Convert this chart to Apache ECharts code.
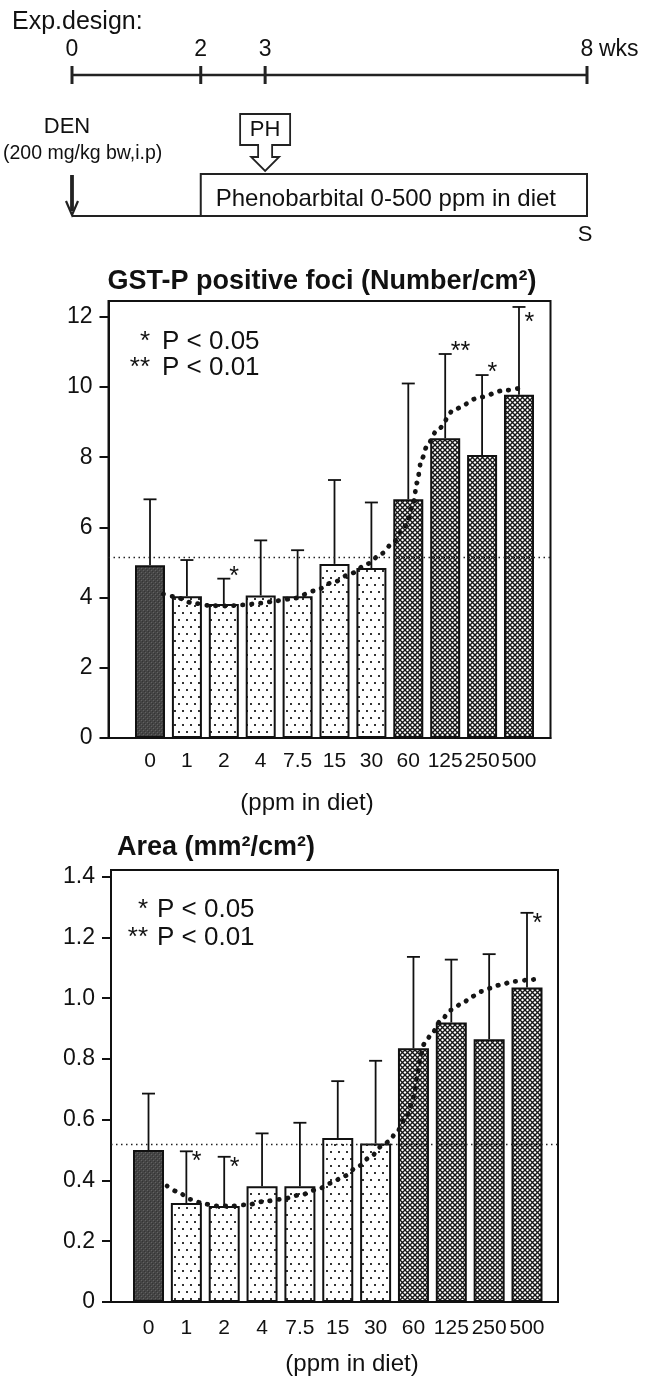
<!DOCTYPE html>
<html>
<head>
<meta charset="utf-8">
<script src="https://cdn.jsdelivr.net/npm/echarts@6/dist/echarts.min.js"></script>
<style>
html,body{margin:0;padding:0;background:#ffffff;}
#chart{width:653px;height:1382px;}
</style>
</head>
<body>
<div id="chart"></div>
<script>
// ---------------- data ----------------
const categories = ['0', '1', '2', '4', '7.5', '15', '30', '60', '125', '250', '500'];
const doseGroup = ['control', 'low', 'low', 'low', 'low', 'low', 'low', 'high', 'high', 'high', 'high'];

// GST-P positive foci (Number/cm2)
const fociMean   = [4.92, 4.04, 3.82, 4.06, 4.04, 4.96, 4.84, 6.80, 8.54, 8.06, 9.78];
const fociErrTop = [6.80, 5.07, 4.54, 5.63, 5.35, 7.35, 6.71, 10.10, 10.94, 10.34, 12.28];
const fociSig    = ['', '', '*', '', '', '', '', '', '**', '*', '*'];
const fociControlLevel = 5.14;
const fociTrend = [[0.36, 4.10], [0.64, 4.03], [1.18, 3.84], [1.64, 3.77], [2.09, 3.76], [2.5, 3.79],
  [3.0, 3.84], [3.45, 3.91], [3.91, 3.98], [4.45, 4.19], [5.0, 4.45], [5.45, 4.69], [5.91, 4.97],
  [6.27, 5.25], [6.55, 5.52], [6.93, 6.05], [7.14, 6.68], [7.23, 7.26], [7.36, 7.94], [7.53, 8.38],
  [7.78, 8.77], [8.27, 9.38], [8.95, 9.71], [9.58, 9.90], [10.16, 10.0]];
const fociTicks = [0, 2, 4, 6, 8, 10, 12];
const fociTickLabels = ['0', '2', '4', '6', '8', '10', '12'];

// Area (mm2/cm2)
const areaMean   = [0.500, 0.326, 0.316, 0.381, 0.381, 0.540, 0.522, 0.835, 0.920, 0.865, 1.035];
const areaErrTop = [0.686, 0.496, 0.478, 0.555, 0.590, 0.727, 0.794, 1.136, 1.127, 1.145, 1.281];
const areaSig    = ['', '*', '*', '', '', '', '', '', '', '', '*'];
const areaControlLevel = 0.52;
const areaTrend = [[0.49, 0.382], [0.75, 0.364], [1.11, 0.338], [1.46, 0.323], [1.81, 0.316],
  [2.17, 0.316], [2.61, 0.320], [3.05, 0.331], [3.5, 0.338], [4.03, 0.353], [4.47, 0.371],
  [4.82, 0.391], [5.18, 0.415], [5.53, 0.446], [5.88, 0.479], [6.15, 0.512], [6.35, 0.528],
  [6.56, 0.561], [6.82, 0.610], [7.01, 0.676], [7.11, 0.753], [7.19, 0.813], [7.29, 0.851],
  [7.49, 0.884], [7.70, 0.923], [7.99, 0.961], [8.29, 0.983], [8.54, 1.005], [8.79, 1.022],
  [9.04, 1.033], [9.29, 1.044], [9.63, 1.055], [10.05, 1.060], [10.2, 1.062]];
const areaTicks = [0, 0.2, 0.4, 0.6, 0.8, 1.0, 1.2, 1.4];
const areaTickLabels = ['0', '0.2', '0.4', '0.6', '0.8', '1.0', '1.2', '1.4'];

// Experimental design (weeks)
const designWeeks = [0, 2, 3, 8];
const designWeekLabels = ['0', '2', '3', '8'];
const designUnit = 'wks';
const denWeek = 0, pbStartWeek = 2, phWeek = 3, endWeek = 8;

// ---------------- styles ----------------
const FONT = '"Liberation Sans", Arial, Helvetica, sans-serif';
const INK = '#111111';
const LW = 2;

function makeTile(w, h, draw) {
  const c = document.createElement('canvas');
  c.width = w; c.height = h;
  draw(c.getContext('2d'), w, h);
  return c;
}
const darkTile = makeTile(4, 4, (ctx) => {
  ctx.fillStyle = '#454545'; ctx.fillRect(0, 0, 4, 4);
  ctx.fillStyle = '#626262'; ctx.fillRect(1, 0, 1, 1); ctx.fillRect(3, 2, 1, 1);
  ctx.fillStyle = '#343434'; ctx.fillRect(0, 3, 1, 1); ctx.fillRect(2, 1, 1, 1);
});
const dotTile = makeTile(8, 14, (ctx, w, h) => {
  ctx.fillStyle = '#ffffff'; ctx.fillRect(0, 0, w, h);
  ctx.fillStyle = '#333333';
  ctx.fillRect(2, 3, 2, 2);
  ctx.fillRect(6, 10, 2, 2);
});
const hatchTile = makeTile(5, 5, (ctx, w, h) => {
  ctx.fillStyle = '#ffffff'; ctx.fillRect(0, 0, w, h);
  ctx.strokeStyle = '#151515'; ctx.lineWidth = 1.4;
  ctx.beginPath();
  ctx.moveTo(-1, -1); ctx.lineTo(w + 1, h + 1);
  ctx.moveTo(w + 1, -1); ctx.lineTo(-1, h + 1);
  ctx.stroke();
});
const groupFill = {
  control: { image: darkTile, repeat: 'repeat' },
  low: { image: dotTile, repeat: 'repeat' },
  high: { image: hatchTile, repeat: 'repeat' }
};

// ---------------- helpers ----------------
function errorRenderer(sigArr, starDy) {
  return function (params, api) {
    const i = api.value(0);
    const p0 = api.coord([i, api.value(1)]);
    const p1 = api.coord([i, api.value(2)]);
    const cap = 6.5;
    const children = [
      { type: 'line', shape: { x1: p0[0], y1: p0[1], x2: p1[0], y2: p1[1] }, style: { stroke: INK, lineWidth: 1.8 } },
      { type: 'line', shape: { x1: p1[0] - cap, y1: p1[1], x2: p1[0] + cap, y2: p1[1] }, style: { stroke: INK, lineWidth: 1.8 } }
    ];
    const s = sigArr[params.dataIndex];
    if (s) {
      const glyphCenter = Math.max(p1[1] + starDy, params.coordSys.y + 16);
      children.push({
        type: 'text', x: p1[0] + cap - 1, y: glyphCenter + 6,
        style: { text: s, font: '25px ' + FONT, fill: INK, align: 'left', verticalAlign: 'middle' }
      });
    }
    return { type: 'group', children };
  };
}

function barChartParts(gi, cfg) {
  const xAxis = {
    type: 'value', gridIndex: gi, min: cfg.xMin, max: cfg.xMax,
    axisLine: { show: true, onZero: false, lineStyle: { color: INK, width: LW } },
    axisTick: { show: false },
    splitLine: { show: false },
    axisLabel: {
      customValues: categories.map((c, i) => i),
      formatter: (v) => categories[Math.round(v)],
      fontSize: 21, fontFamily: FONT, color: INK, margin: cfg.xLabelMargin
    }
  };
  const yAxis = {
    type: 'value', gridIndex: gi, min: 0, max: cfg.yMax,
    axisLine: { show: true, onZero: false, lineStyle: { color: INK, width: LW } },
    axisTick: { show: true, customValues: cfg.ticks, length: 9, lineStyle: { color: INK, width: LW } },
    splitLine: { show: false },
    axisLabel: {
      customValues: cfg.ticks,
      formatter: (v) => cfg.tickLabels[cfg.ticks.findIndex(t => Math.abs(t - v) < 1e-6)],
      fontSize: 23, fontFamily: FONT, color: INK, margin: 16
    }
  };
  const series = [
    {
      type: 'line', xAxisIndex: gi, yAxisIndex: gi, data: [], z: 1, silent: true,
      markLine: {
        silent: true, symbol: ['none', 'none'], label: { show: false }, animation: false,
        lineStyle: { color: '#222', width: 1.4, type: [1.5, 3.5] },
        data: [{ yAxis: cfg.control }]
      }
    },
    {
      type: 'bar', xAxisIndex: gi, yAxisIndex: gi, barWidth: cfg.barWidth, z: 2,
      data: cfg.mean.map((v, i) => ({ value: [i, v], itemStyle: { color: groupFill[doseGroup[i]] } })),
      itemStyle: { borderColor: INK, borderWidth: LW }
    },
    {
      type: 'custom', xAxisIndex: gi, yAxisIndex: gi, z: 3, clip: false,
      renderItem: errorRenderer(cfg.sig, cfg.starDy),
      data: cfg.mean.map((v, i) => [i, v, cfg.errTop[i]])
    },
    {
      type: 'line', xAxisIndex: gi, yAxisIndex: gi, z: 4, data: cfg.trend,
      smooth: 0.3, smoothMonotone: 'x', showSymbol: false, silent: true,
      lineStyle: { color: '#151515', width: 4.8, type: [0.4, 8.6], cap: 'round' }
    }
  ];
  return { xAxis, yAxis, series };
}

function designRenderer(params, api) {
  const X = (w) => api.coord([w, 0])[0];
  const lineY = 75;
  const txt = (t, x, y, align, size) => ({
    type: 'text', x, y,
    style: { text: t, font: (size || 22) + 'px ' + FONT, fill: INK, align: align || 'center', verticalAlign: 'middle' }
  });
  const ch = [];
  ch.push({ type: 'line', shape: { x1: X(designWeeks[0]), y1: lineY, x2: X(designWeeks[designWeeks.length - 1]), y2: lineY },
            style: { stroke: '#222', lineWidth: 2.6 } });
  designWeeks.forEach((w, k) => {
    ch.push({ type: 'line', shape: { x1: X(w), y1: lineY - 9, x2: X(w), y2: lineY + 9 }, style: { stroke: '#222', lineWidth: 3 } });
    ch.push(txt(designWeekLabels[k], X(w), 50, 'center', 23));
  });
  ch.push(txt(designUnit, X(endWeek) + 12, 50, 'left', 23));
  // DEN injection
  const xd = X(denWeek);
  ch.push(txt('DEN', xd - 5, 127));
  ch.push(txt('(200 mg/kg bw,i.p)', xd - 69, 154, 'left', 19.5));
  ch.push({ type: 'line', shape: { x1: xd, y1: 175, x2: xd, y2: 211 }, style: { stroke: '#222', lineWidth: 3.8 } });
  ch.push({ type: 'polyline', shape: { points: [[xd - 6, 201], [xd, 215], [xd + 6, 201]] }, style: { stroke: '#222', lineWidth: 2.2, fill: null } });
  // baseline before diet
  ch.push({ type: 'line', shape: { x1: xd, y1: 216, x2: X(pbStartWeek), y2: 216 }, style: { stroke: '#222', lineWidth: 2 } });
  // phenobarbital box
  const xs = X(pbStartWeek), xe = X(endWeek);
  ch.push({ type: 'rect', shape: { x: xs, y: 174, width: xe - xs, height: 42 }, style: { stroke: '#222', lineWidth: 2, fill: null } });
  ch.push(txt('Phenobarbital 0-500 ppm in diet', (xs + xe) / 2 - 8, 199, 'center', 24));
  // PH callout
  const cx = X(phWeek);
  ch.push({ type: 'polygon', shape: { points: [[cx - 25, 114], [cx + 25, 114], [cx + 25, 145], [cx + 7, 145], [cx + 7, 157],
    [cx + 14, 157], [cx, 171], [cx - 14, 157], [cx - 7, 157], [cx - 7, 145], [cx - 25, 145]] },
    style: { stroke: '#222', lineWidth: 1.8, fill: '#ffffff' } });
  ch.push(txt('PH', cx, 130));
  ch.push(txt('S', xe - 2, 235));
  return { type: 'group', children: ch };
}

// ---------------- option ----------------
const fociParts = barChartParts(1, {
  xMin: -1.125, xMax: 10.854, yMax: 12.45, ticks: fociTicks, tickLabels: fociTickLabels,
  mean: fociMean, errTop: fociErrTop, sig: fociSig, control: fociControlLevel, trend: fociTrend,
  starDy: -8, xLabelMargin: 13, barWidth: 30
});
const areaParts = barChartParts(2, {
  xMin: -0.991, xMax: 10.819, yMax: 1.422, ticks: areaTicks, tickLabels: areaTickLabels,
  mean: areaMean, errTop: areaErrTop, sig: areaSig, control: areaControlLevel, trend: areaTrend,
  starDy: 5, xLabelMargin: 16, barWidth: 31
});

const textEl = (t, x, y, align, font) => ({
  type: 'text', x, y, silent: true,
  style: { text: t, font: font, fill: INK, align: align, verticalAlign: 'middle' }
});

const option = {
  animation: false,
  backgroundColor: '#ffffff',
  grid: [
    { left: 72, right: 66, top: 60, height: 15, show: false },
    { left: 108.5, right: 102.5, top: 301, bottom: 644, show: true, borderColor: INK, borderWidth: LW, backgroundColor: 'transparent' },
    { left: 111, right: 95, top: 870, bottom: 80, show: true, borderColor: INK, borderWidth: LW, backgroundColor: 'transparent' }
  ],
  xAxis: [
    { type: 'value', gridIndex: 0, min: 0, max: endWeek, show: false },
    fociParts.xAxis, areaParts.xAxis
  ],
  yAxis: [
    { type: 'value', gridIndex: 0, min: 0, max: 1, show: false },
    fociParts.yAxis, areaParts.yAxis
  ],
  series: [
    { type: 'custom', xAxisIndex: 0, yAxisIndex: 0, clip: false, silent: true, renderItem: designRenderer, data: [[0, 0]] }
  ].concat(fociParts.series, areaParts.series),
  graphic: [
    textEl('Exp.design:', 12, 22, 'left', '25px ' + FONT),
    textEl('GST-P positive foci (Number/cm²)', 322, 282, 'center', 'bold 27px ' + FONT),
    textEl('*', 150, 342, 'right', '26px ' + FONT),
    textEl('P < 0.05', 162, 342, 'left', '26px ' + FONT),
    textEl('**', 150, 368, 'right', '26px ' + FONT),
    textEl('P < 0.01', 162, 368, 'left', '26px ' + FONT),
    textEl('(ppm in diet)', 307, 803, 'center', '24px ' + FONT),
    textEl('Area (mm²/cm²)', 117, 848, 'left', 'bold 27px ' + FONT),
    textEl('*', 148, 910, 'right', '26px ' + FONT),
    textEl('P < 0.05', 157, 910, 'left', '26px ' + FONT),
    textEl('**', 148, 938, 'right', '26px ' + FONT),
    textEl('P < 0.01', 157, 938, 'left', '26px ' + FONT),
    textEl('(ppm in diet)', 352, 1364, 'center', '24px ' + FONT)
  ]
};

const chart = echarts.init(document.getElementById('chart'), null, { renderer: 'canvas', devicePixelRatio: 1 });
chart.setOption(option);
</script>
</body>
</html>
